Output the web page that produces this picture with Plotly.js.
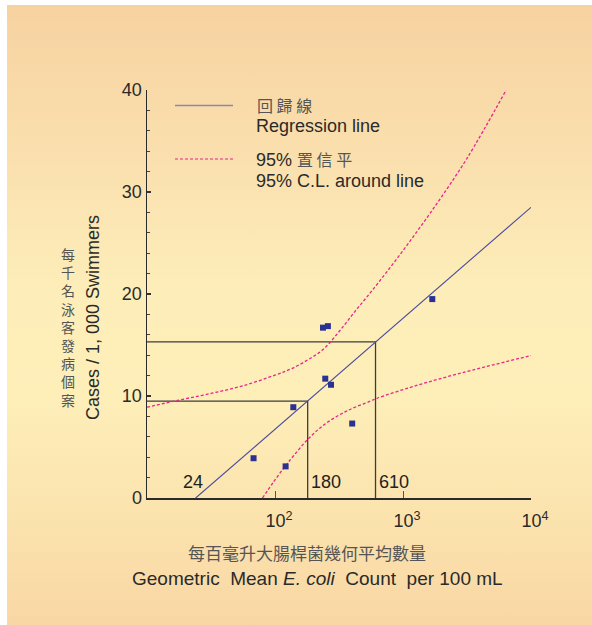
<!DOCTYPE html>
<html><head><meta charset="utf-8">
<script src="https://cdn.plot.ly/plotly-3.0.1.min.js"></script>
<style>
html,body{margin:0;padding:0;background:#ffffff;}
#bg{position:absolute;left:7px;top:5px;width:585px;height:620px;
background:linear-gradient(to bottom,#f7d2a1 0%,#fae0ae 25%,#fdedb8 45%,#feefb9 62%,#fbe3ae 82%,#f9d7a5 100%);}
#chart{position:absolute;left:0;top:0;width:592px;height:625px;}
</style></head>
<body>
<div id="bg"></div>
<div id="chart"></div>
<script>
// ---- data ----
const pointsX = [68, 121, 139, 237, 259, 247, 274, 401, 1694];
const pointsY = [3.9, 3.1, 8.9, 16.7, 16.85, 11.7, 11.1, 7.3, 19.5];
const regX = [24, 10000];
const regY = [0, 28.5];
const upperX = [10, 17.8, 31.6, 56.2, 100, 133, 178, 237, 316, 422, 562, 750, 1000, 1334, 1778, 3162, 6400];
const upperY = [8.9, 9.6, 10.25, 11.0, 12.05, 12.65, 13.5, 14.55, 16.3, 18.3, 20.2, 22.2, 24.25, 26.4, 28.6, 33.3, 40];
const lowerX = [79.8, 98, 121, 141, 179, 241, 366, 557, 628, 1143, 2339, 10000];
const lowerY = [0, 1.62, 3.17, 4.2, 5.7, 7.17, 8.55, 9.5, 9.78, 10.85, 11.97, 13.97];
const refX = [180, 610];
const refY = [9.5, 15.3];
const refLabels = ['180', '610'];
const zeroCross = 24;
const xTickVals = [100, 1000, 10000];
const xTickText = ['10<sup>2</sup>', '10<sup>3</sup>', '10<sup>4</sup>'];
const yTickVals = [0, 10, 20, 30, 40];
const xMin = 10, xMax = 10000, yMin = 0, yMax = 40;

const EN = 'Liberation Sans, Arial, sans-serif';
const ZH = 'Noto Sans CJK TC, sans-serif';
const bandColor = '#e8248e';
const regColor = '#4a4a9e';

const traces = [];
refX.forEach((rx, i) => {
  traces.push({x: [xMin, rx, rx], y: [refY[i], refY[i], yMin], mode: 'lines',
    line: {color: '#3c3c3c', width: 1.3}, hoverinfo: 'skip', showlegend: false});
});
traces.push({x: upperX, y: upperY, mode: 'lines', line: {color: bandColor, width: 1.3, dash: '3px,2px', shape: 'spline', smoothing: 1}, showlegend: false});
traces.push({x: lowerX, y: lowerY, mode: 'lines', line: {color: bandColor, width: 1.3, dash: '3px,2px', shape: 'spline', smoothing: 1}, showlegend: false});
traces.push({x: regX, y: regY, mode: 'lines', line: {color: regColor, width: 1.1}, showlegend: false});
traces.push({x: pointsX, y: pointsY, mode: 'markers', marker: {symbol: 'square', size: 6, color: '#2b3190'}, showlegend: false});

const L = 147, T = 90, W = 384, H = 408;
const px2x = p => (p - L) / W;
const py2y = p => (T + H - p) / H;

const ann = [];
// reference value labels
ann.push({x: Math.log10(zeroCross), y: 0, xref: 'x', yref: 'y', text: String(zeroCross), showarrow: false,
  xanchor: 'center', yanchor: 'bottom', xshift: -3, yshift: 4, font: {family: EN, size: 18, color: '#222'}});
refX.forEach((rx, i) => {
  ann.push({x: Math.log10(rx), y: 0, xref: 'x', yref: 'y', text: refLabels[i], showarrow: false,
    xanchor: 'left', yanchor: 'bottom', xshift: 1, yshift: 4, font: {family: EN, size: 18, color: '#222'}});
});
// legend texts
ann.push({x: px2x(255), y: py2y(105), xref: 'paper', yref: 'paper', text: '回 歸 線', showarrow: false, xanchor: 'left', yanchor: 'middle', font: {family: ZH, size: 16, color: '#555'}});
ann.push({x: px2x(254), y: py2y(126), xref: 'paper', yref: 'paper', text: 'Regression line', showarrow: false, xanchor: 'left', yanchor: 'middle', font: {family: EN, size: 18, color: '#2a2a2a'}});
ann.push({x: px2x(254), y: py2y(159), xref: 'paper', yref: 'paper', text: '95% <span style="font-family:Noto Sans CJK TC;color:#555;font-size:16px">置 信 平</span>', showarrow: false, xanchor: 'left', yanchor: 'middle', font: {family: EN, size: 18, color: '#2a2a2a'}});
ann.push({x: px2x(254), y: py2y(181), xref: 'paper', yref: 'paper', text: '95% C.L. around line', showarrow: false, xanchor: 'left', yanchor: 'middle', font: {family: EN, size: 18, color: '#2a2a2a'}});
// axis titles
ann.push({x: px2x(307), y: py2y(552), xref: 'paper', yref: 'paper', text: '每百毫升大腸桿菌幾何平均數量', showarrow: false, xanchor: 'center', yanchor: 'middle', font: {family: ZH, size: 17, color: '#555'}});
ann.push({x: px2x(317), y: py2y(578), xref: 'paper', yref: 'paper', text: 'Geometric\u00a0 Mean <i>E. coli</i>\u00a0 Count\u00a0 per 100 mL', showarrow: false, xanchor: 'center', yanchor: 'middle', font: {family: EN, size: 19, color: '#2a2a2a'}});
ann.push({x: px2x(93), y: py2y(318), xref: 'paper', yref: 'paper', text: 'Cases / 1, 000 Swimmers', textangle: -90, showarrow: false, xanchor: 'center', yanchor: 'middle', font: {family: EN, size: 18, color: '#2a2a2a'}});
const yZh = '每千名泳客發病個案';
ann.push({x: px2x(68), y: py2y(327), xref: 'paper', yref: 'paper', text: Array.from(yZh).join('<br>'), showarrow: false,
  xanchor: 'center', yanchor: 'middle', align: 'center', font: {family: ZH, size: 14, color: '#555'}});

const shapes = [
  {type: 'line', xref: 'paper', yref: 'paper', x0: px2x(175), x1: px2x(233), y0: py2y(105.5), y1: py2y(105.5), line: {color: '#8a88b8', width: 1.6}},
  {type: 'line', xref: 'paper', yref: 'paper', x0: px2x(175), x1: px2x(233), y0: py2y(159), y1: py2y(159), line: {color: bandColor, width: 1.1, dash: '3px,2px'}}
];

const layout = {
  width: 592, height: 625,
  margin: {l: L, r: 592 - L - W, t: T, b: 625 - T - H, pad: 0},
  paper_bgcolor: 'rgba(0,0,0,0)', plot_bgcolor: 'rgba(0,0,0,0)',
  showlegend: false,
  xaxis: {type: 'log', range: [Math.log10(xMin), Math.log10(xMax)], showgrid: false, zeroline: false,
    showline: true, linecolor: '#2a2a2a', linewidth: 1.5, ticks: 'inside', ticklen: 7, tickwidth: 1, tickcolor: '#555',
    tickvals: xTickVals, ticktext: xTickText, tickfont: {family: EN, size: 18, color: '#2a2a2a'},
    ticklabelshift: 4, ticklabelstandoff: 6, fixedrange: true},
  yaxis: {range: [yMin, yMax], showgrid: false, zeroline: false, showline: true, linecolor: '#2a2a2a', linewidth: 1.5,
    ticks: 'inside', ticklen: 4, tickwidth: 1.2, tickcolor: '#333', tickvals: yTickVals,
    minor: {dtick: 2, ticks: 'inside', ticklen: 2.5, tickcolor: '#444', tickwidth: 1},
    tickfont: {family: EN, size: 18, color: '#2a2a2a'}, fixedrange: true},
  annotations: ann,
  shapes: shapes
};
Plotly.newPlot('chart', traces, layout, {staticPlot: true, displayModeBar: false});
</script>
</body></html>
